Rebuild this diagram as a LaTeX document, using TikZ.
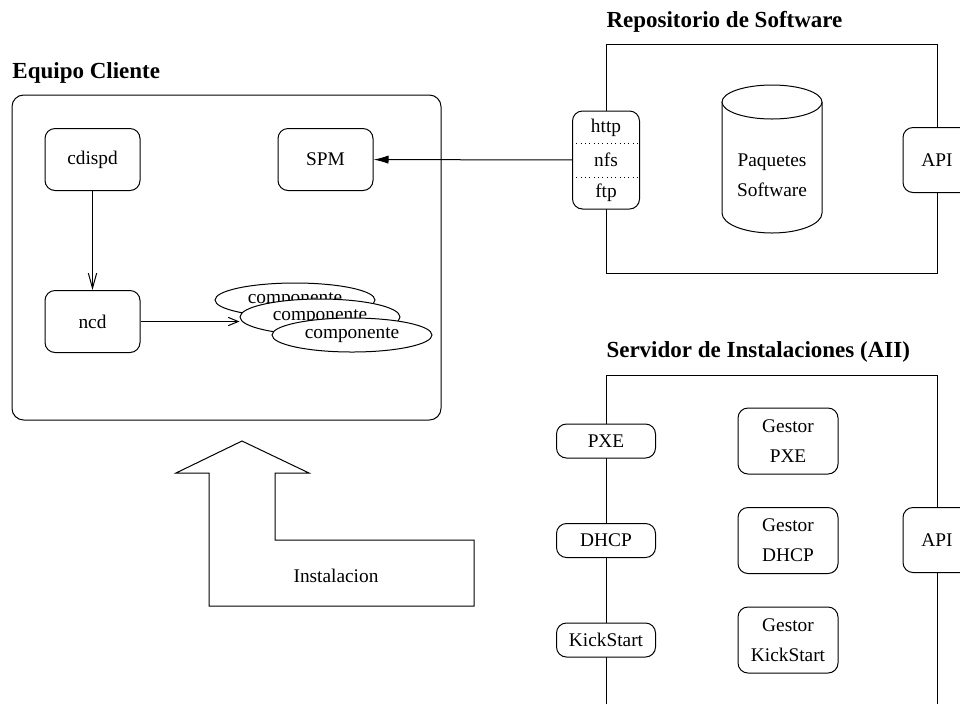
\documentclass[tikz,border=0pt]{standalone}
\usepackage{fontspec}
\setmainfont{Liberation Serif}
\usetikzlibrary{positioning,arrows.meta,shapes.geometric}

\begin{document}
\begin{tikzpicture}[x=0.6pt,y=-0.6pt,line width=0.6pt,
    font=\fontsize{11.6}{18}\selectfont,node distance=59.7pt,on grid,
    box/.style={draw,fill=white,rounded corners=6pt,align=center,inner sep=0pt},
    cbox/.style={box,minimum width=57pt,minimum height=37.2pt},
    ibox/.style={box,minimum width=59.4pt,minimum height=20.4pt},
    gbox/.style={box,minimum width=60pt,minimum height=39.6pt},
    apibox/.style={box,minimum width=40.8pt,minimum height=39pt},
    comp/.style={draw,fill=white,ellipse,inner sep=0pt,minimum width=96pt,minimum height=19.8pt},
    title/.style={font=\fontsize{13.8}{16}\selectfont\bfseries,anchor=base west,inner sep=0pt}]
   \clip (0,0) rectangle (960,704);

   % equipo cliente
   \node[title] (tcli) at (12,78) {Equipo Cliente};
   \draw[rounded corners=7pt] (12,95) rectangle (441,420);
   \node[cbox] (cdispd) at (92.5,159.5) {cdispd};
   \node[cbox] (spm) [right=139.8pt of cdispd] {SPM};
   \node[cbox] (ncd) [below=97.2pt of cdispd] {ncd};
   \node[comp,minimum height=20.4pt] (comp1) at (295,300) {componente};
   \node[comp,minimum height=21.6pt] (comp2) at (320,317) {componente};
   \node[comp,minimum height=20.4pt] (comp3) at (352,335) {componente};
   \draw[-{Straight Barb[length=9pt,width=5pt]}] (cdispd) -- (ncd);
   \draw[-{Straight Barb[length=6pt,width=5pt]}] (ncd.east) -- (ncd.east -| comp2.west);

   % repositorio de software
   \node[title] (trep) at (606,27) {Repositorio de Software};
   \draw (606,44) rectangle (937,273);
   \draw (722,102) -- (722,213) arc[start angle=180,end angle=360,x radius=30pt,y radius=12pt] -- (822,102);
   \draw[fill=white] (772,102) ellipse [x radius=30pt,y radius=10.2pt];
   \node[align=center] (paq) at (772,175) {Paquetes\\Software};
   \node[box,minimum width=40.2pt,minimum height=58.8pt] (proto) at (606,160) {};
   \node (http) at (606,128) {http};
   \node (nfs) at (606,160) {nfs};
   \node (ftp) at (606,193) {ftp};
   \draw[dotted] (proto.west |- 0,143) -- (proto.east |- 0,143);
   \draw[dotted] (proto.west |- 0,177) -- (proto.east |- 0,177);
   \node[apibox] (api1) at (937,160) {API};
   \draw[-{Latex[length=9pt,width=5pt]}] (proto) -- (spm);

   % servidor de instalaciones
   \node[title] (tsrv) at (606,357) {Servidor de Instalaciones (AII)};
   \draw (606,704) -- (606,375) -- (937,375) -- (937,704);
   \node[ibox] (pxe) at (606,441) {PXE};
   \node[ibox] (dhcp) [below=of pxe] {DHCP};
   \node[ibox] (kick) [below=of dhcp] {KickStart};
   \node[gbox] (gpxe) [right=109.2pt of pxe] {Gestor\\PXE};
   \node[gbox] (gdhcp) [right=109.2pt of dhcp] {Gestor\\DHCP};
   \node[gbox] (gkick) [right=109.2pt of kick] {Gestor\\KickStart};
   \node[apibox] (api2) at (937,540) {API};

   % flecha de instalacion
   \draw (242,441) -- (309,473) -- (275,473) -- (275,540) -- (474,540) -- (474,606)
      -- (209,606) -- (209,473) -- (176,473) -- cycle;
   \node (inst) at (336,576) {Instalacion};
\end{tikzpicture}
\end{document}
